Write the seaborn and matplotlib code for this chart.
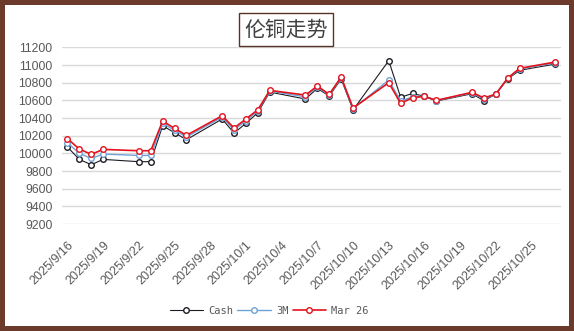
import matplotlib
matplotlib.use("Agg")
import matplotlib.pyplot as plt
import pandas as pd
import seaborn as sns

dates = ['2025-09-16', '2025-09-17', '2025-09-18', '2025-09-19', '2025-09-22',
         '2025-09-23', '2025-09-24', '2025-09-25', '2025-09-26', '2025-09-29',
         '2025-09-30', '2025-10-01', '2025-10-02', '2025-10-03', '2025-10-06',
         '2025-10-07', '2025-10-08', '2025-10-09', '2025-10-10', '2025-10-13',
         '2025-10-14', '2025-10-15', '2025-10-16', '2025-10-17', '2025-10-20',
         '2025-10-21', '2025-10-22', '2025-10-23', '2025-10-24', '2025-10-27']
cash = [10072, 9932, 9872, 9932, 9906, 9906, 10313, 10234, 10155, 10389,
        10230, 10340, 10460, 10694, 10615, 10736, 10649, 10842, 10491, 11049,
        10634, 10679, 10645, 10592, 10675, 10596, 10672, 10842, 10940, 11011]
m3 = [10121, 10000, 9943, 9992, 9977, 9977, 10340, 10262, 10185, 10410,
      10265, 10370, 10480, 10705, 10640, 10750, 10660, 10855, 10505, 10830,
      10592, 10640, 10648, 10598, 10685, 10615, 10670, 10850, 10955, 11025]
mar26 = [10166, 10049, 9989, 10045, 10030, 10030, 10366, 10283, 10204, 10426,
         10287, 10389, 10494, 10713, 10660, 10762, 10668, 10864, 10513, 10800,
         10566, 10630, 10645, 10600, 10691, 10626, 10672, 10853, 10962, 11034]
series_names = ['Cash', '3M', 'Mar 26']
title = '伦铜走势'
yticks = [9200, 9400, 9600, 9800, 10000, 10200, 10400, 10600, 10800, 11000, 11200]

sns.set_theme(style='white')
plt.rcParams['font.family'] = ['Liberation Sans', 'Noto Sans CJK SC']

fig = plt.figure(figsize=(5.74, 3.31), dpi=100, facecolor='white',
                 edgecolor='#6b3a2b', linewidth=6)
ax = fig.add_axes([0.108, 0.323, 0.869, 0.534])

d = pd.to_datetime(dates)
colors = ['#1c1c24', '#6fa3d6', '#e3121c']
widths = [0.8, 1.0, 1.2]
for name, vals, c, lw in zip(series_names, [cash, m3, mar26], colors, widths):
    sns.lineplot(x=d, y=vals, ax=ax, color=c, linewidth=lw, marker='o',
                 markersize=4, markerfacecolor='white', markeredgecolor=c,
                 markeredgewidth=1.0, label=name)

ax.set_ylim(9200, 11200)
ax.set_yticks(yticks)
ax.set_xlim(pd.Timestamp('2025-09-16') - pd.Timedelta(hours=11),
            pd.Timestamp('2025-10-27') + pd.Timedelta(hours=11))
xt = pd.date_range('2025-09-16', '2025-10-25', freq='3D')
ax.set_xticks(xt)
ax.set_xticklabels([f'{t.year}/{t.month}/{t.day}' for t in xt],
                   rotation=45, ha='right', va='top', rotation_mode='anchor',
                   fontsize=9, color='#595959')
ax.tick_params(axis='y', labelsize=8.8, labelcolor='#595959', length=0, pad=7)
ax.tick_params(axis='x', length=0, pad=11)
ax.grid(axis='y', color='#d9d9d9', linewidth=1)
ax.set_axisbelow(True)
for s in ax.spines.values():
    s.set_visible(False)
ax.set_xlabel('')
ax.set_ylabel('')

leg = ax.legend(loc='center', bbox_to_anchor=(0.469, 0.060),
                bbox_transform=fig.transFigure, ncol=3, frameon=False,
                handlelength=3.2, handletextpad=0.5, columnspacing=0.4,
                prop={'family': 'DejaVu Sans Mono', 'size': 7.5})
for t in leg.get_texts():
    t.set_color('#595959')

fig.text(0.499, 0.911, title, ha='center', va='center', fontsize=15,
         family=['Noto Sans CJK SC', 'DejaVu Sans'], color='#404040',
         fontweight='light',
         bbox=dict(boxstyle='square,pad=0.25', facecolor='white',
                   edgecolor='#5a3328', linewidth=1.0))

fig.savefig('out.png', dpi=100, facecolor='white', edgecolor='#6b3a2b')
